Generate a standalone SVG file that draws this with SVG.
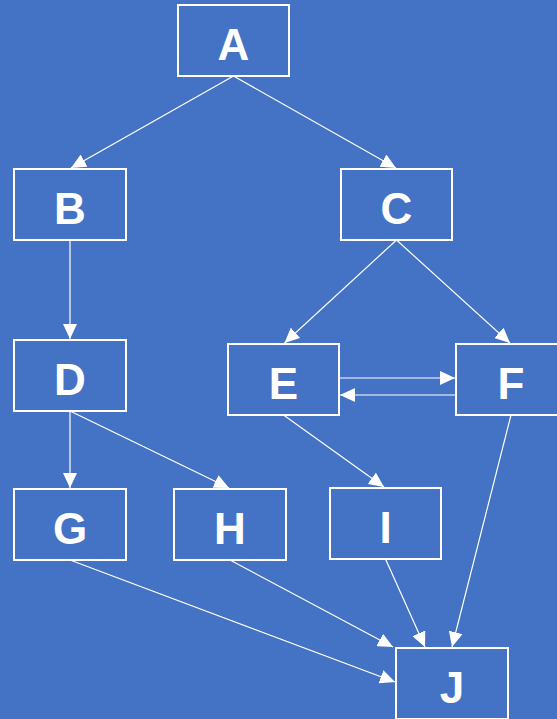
<svg xmlns="http://www.w3.org/2000/svg" width="557" height="719" viewBox="0 0 557 719">
<defs>
<style>
.node rect{fill:#4472C4;stroke:#FFFFFF;stroke-width:2}
.node text{font-family:"Liberation Sans",Arial,sans-serif;font-weight:bold;font-size:44px;fill:#FFFFFF;text-anchor:middle}
#connectors line{stroke:#FFFFFF;stroke-width:1.2;marker-end:url(#arrow)}
</style>
<marker id="arrow" markerUnits="userSpaceOnUse" markerWidth="16" markerHeight="14" refX="15" refY="7" orient="auto">
<path d="M0,0 L15,7 L0,14 Z" fill="#FFFFFF"/>
</marker>
</defs>
<rect x="0" y="0" width="557" height="719" fill="#4472C4"/>
<g id="connectors">
<line x1="233.5" y1="76" x2="71" y2="168"/>
<line x1="233.5" y1="76" x2="396" y2="168"/>
<line x1="70" y1="240" x2="70" y2="339"/>
<line x1="396.5" y1="240" x2="284.5" y2="343"/>
<line x1="396.5" y1="240" x2="510" y2="343"/>
<line x1="339" y1="378" x2="455" y2="378"/>
<line x1="456" y1="395" x2="340" y2="395"/>
<line x1="70" y1="411" x2="70" y2="488"/>
<line x1="70" y1="411" x2="229" y2="488"/>
<line x1="283.5" y1="415" x2="384" y2="487"/>
<line x1="70" y1="560" x2="395" y2="682"/>
<line x1="230" y1="560" x2="393" y2="647"/>
<line x1="385.5" y1="559" x2="425" y2="647"/>
<line x1="511" y1="415" x2="452" y2="647"/>
</g>
<g id="A" class="node"><rect x="178" y="5" width="111" height="71"/><text x="233.5" y="60">A</text></g>
<g id="B" class="node"><rect x="14" y="169" width="112" height="71"/><text x="70" y="224">B</text></g>
<g id="C" class="node"><rect x="341" y="169" width="111" height="71"/><text x="396.5" y="224">C</text></g>
<g id="D" class="node"><rect x="14" y="340" width="112" height="71"/><text x="70" y="395">D</text></g>
<g id="E" class="node"><rect x="228" y="344" width="111" height="71"/><text x="283.5" y="399">E</text></g>
<g id="F" class="node"><rect x="456" y="344" width="111" height="71"/><text x="511" y="399">F</text></g>
<g id="G" class="node"><rect x="14" y="489" width="112" height="71"/><text x="70" y="544">G</text></g>
<g id="H" class="node"><rect x="174" y="489" width="112" height="71"/><text x="230" y="544">H</text></g>
<g id="I" class="node"><rect x="330" y="488" width="111" height="71"/><text x="385.5" y="543">I</text></g>
<g id="J" class="node"><rect x="396" y="648" width="112" height="71"/><text x="452" y="703">J</text></g>
</svg>
